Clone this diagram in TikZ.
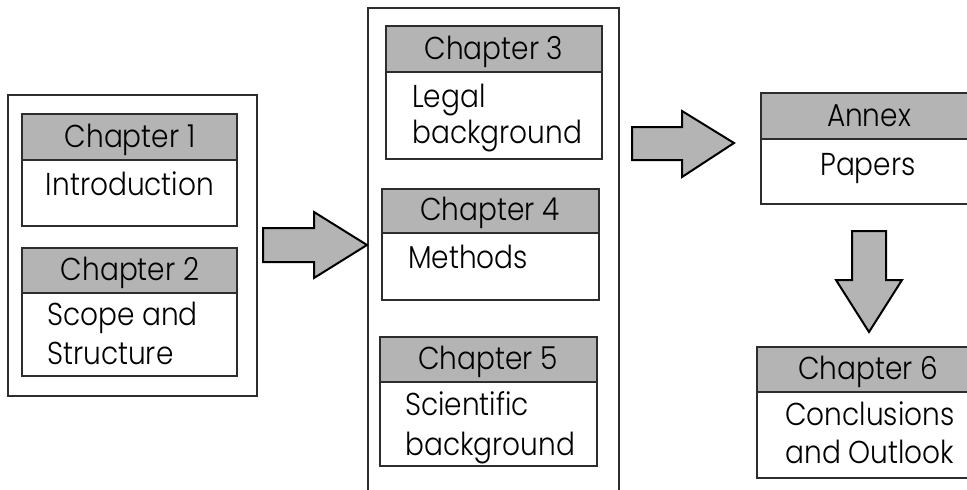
\documentclass[tikz,border=0pt]{standalone}
\usepackage{fontspec}
\setmainfont{Poppins}[UprightFont=* Light]
\definecolor{headgray}{RGB}{180,180,180}
\definecolor{edge}{RGB}{45,45,45}
\newcommand\tall[1]{\scalebox{1}[1.13]{#1}}
\begin{document}
\begin{tikzpicture}[x=1pt,y=-1pt,
  frame/.style={draw=edge,line width=1.3pt},
  headbox/.style={frame,fill=headgray},
  bodybox/.style={frame,fill=white},
  label/.style={font=\fontsize{28}{30}\selectfont,inner sep=0pt},
  blockarrow/.style={draw=black,line width=2pt,fill=headgray,line join=miter}]
\useasboundingbox (0,0) rectangle (967,490);
\clip (0,0) rectangle (967,490);
% #1 name, #2 left, #3 top, #4 right, #5 header bottom, #6 bottom, #7 title x, #8 title
\newcommand\chapbox[8]{%
  \draw[headbox] (#2,#3) rectangle (#4,#5);
  \draw[bodybox] (#2,#5) rectangle (#4,#6);
  \node[label,anchor=base] (#1) at (#7,#5-12.5) {\tall{#8}};
}
% grouping frames
\draw[frame] (8,95) rectangle (257,396);
\draw[frame] (368,8) rectangle (619,500);

% left group
\chapbox{c1}{22}{114}{237}{160}{226}{130}{Chapter 1}
\node[label,anchor=base] (c1t) at (130,195) {\tall{Introduction}};
\chapbox{c2}{22}{248}{237}{293}{376}{130}{Chapter 2}
\node[label,anchor=base west] (c2a) at (47,325) {\tall{Scope and}};
\node[label,anchor=base west] (c2b) at (47,364) {\tall{Structure}};

% middle group
\chapbox{c3}{386}{26}{602}{72}{159}{494}{Chapter 3}
\node[label,anchor=base west] (c3a) at (412,107) {\tall{Legal}};
\node[label,anchor=base west] (c3b) at (412,143) {\tall{background}};
\chapbox{c4}{382}{189}{599}{233}{300}{490}{Chapter 4}
\node[label,anchor=base west] (c4a) at (408,268) {\tall{Methods}};
\chapbox{c5}{380}{337}{597}{382}{466}{488}{Chapter 5}
\node[label,anchor=base west] (c5a) at (405,415) {\tall{Scientific}};
\node[label,anchor=base west] (c5b) at (405,455) {\tall{background}};

% right column
\chapbox{an}{761}{93}{985}{139}{204}{869}{Annex}
\node[label,anchor=base] (ant) at (868,175) {\tall{Papers}};
\chapbox{c6}{757}{347}{985}{392}{478}{868}{Chapter 6}
\node[label,anchor=base] (c6a) at (870,425) {\tall{Conclusions}};
\node[label,anchor=base] (c6b) at (870,463) {\tall{and Outlook}};

% block arrows
\draw[blockarrow] (263,228) -- (314,228) -- (314,212) -- (367,245) -- (314,278) -- (314,262) -- (263,262) -- cycle;
\draw[blockarrow] (632,127) -- (682,127) -- (682,111) -- (734,143) -- (682,177) -- (682,160) -- (632,160) -- cycle;
\draw[blockarrow] (852,231) -- (886,231) -- (886,280) -- (902,280) -- (869,332) -- (836,280) -- (852,280) -- cycle;
\end{tikzpicture}
\end{document}
